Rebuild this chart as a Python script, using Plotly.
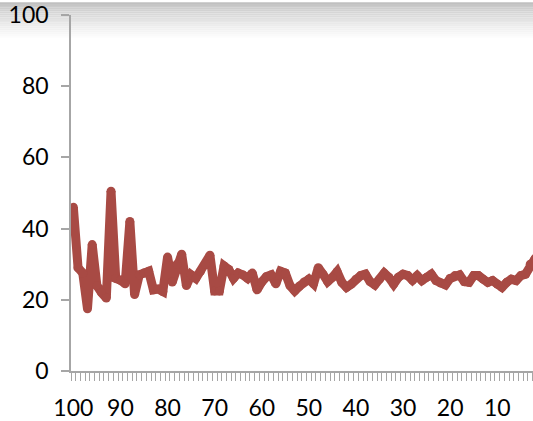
import plotly.graph_objects as go

# Category positions run from 100 down to 1 (reversed axis)
categories = list(range(100, 0, -1))

values = [
    46, 29, 27.5, 17.5, 35.5, 24, 22, 20.5, 50.5, 26,      # 100-91
    25.5, 24.5, 42, 21.5, 27, 27.5, 28, 22.8, 23, 22.3,    # 90-81
    32, 25, 30, 32.8, 24, 27, 26, 28, 30, 32.5,            # 80-71
    22.5, 22.5, 29.5, 28.5, 26, 27.5, 27, 26, 27.5, 22.8,  # 70-61
    25, 26.5, 27, 24.5, 28, 27.5, 24, 22.5, 23.8, 25,      # 60-51
    25.8, 24.5, 29, 27.2, 25.1, 26.3, 27.9, 24.9, 23.5, 24.4,  # 50-41
    25.8, 26.8, 27.2, 25.1, 24.2, 25.8, 27.5, 26.3, 24.4, 26.3,  # 40-31
    27.2, 26.8, 25.5, 26.8, 25.4, 26.3, 27.2, 25.4, 24.7, 24.2,  # 30-21
    26, 26.8, 27, 25.1, 24.9, 26.8, 26.8, 25.8, 24.9, 25.4,    # 20-11
    24.4, 23.5, 24.9, 25.8, 25.4, 26.8, 27.2, 30, 31.5, 33,    # 10-1
]

x_tick_vals = [100, 90, 80, 70, 60, 50, 40, 30, 20, 10]
x_tick_text = [str(v) for v in x_tick_vals]
y_tick_vals = [0, 20, 40, 60, 80, 100]

line_color = "#A84A44"
axis_color = "#A6A6A6"
font_family = "Lato, Open Sans, sans-serif"
line_w = 9

fig = go.Figure()
# Thick line with round dots at each vertex so the joins look rounded
fig.add_trace(go.Scatter(
    x=categories,
    y=values,
    mode="lines+markers",
    line=dict(color=line_color, width=line_w),
    marker=dict(color=line_color, size=line_w, line=dict(width=0)),
    hoverinfo="skip",
    showlegend=False,
))

# Soft grey shading along the top edge of the chart
W, H = 533, 421
left, right, top, bottom = 71, 0, 13, 48
plot_w = W - left - right
plot_h = H - top - bottom
n_strips = 20
band = 38.0
for i in range(n_strips):
    y_px0 = band * i / n_strips
    y_px1 = band * (i + 1) / n_strips
    t = i / (n_strips - 1)
    g = int(round(192 + (255 - 192) * t ** 0.8))
    fig.add_shape(
        type="rect",
        xref="paper", yref="paper",
        x0=-left / plot_w, x1=1 + right / plot_w,
        y0=1 + (top - y_px1) / plot_h, y1=1 + (top - y_px0) / plot_h,
        fillcolor=f"rgb({g},{g},{g})",
        line=dict(width=0),
        layer="below",
    )

fig.update_layout(
    width=W, height=H,
    margin=dict(l=left, r=right, t=top, b=bottom, pad=0),
    paper_bgcolor="white",
    plot_bgcolor="rgba(0,0,0,0)",
    font=dict(family=font_family, size=23, color="#000000"),
    xaxis=dict(
        range=[100.5, 2.41],
        tickmode="array",
        tickvals=x_tick_vals,
        ticktext=x_tick_text,
        ticks="",
        showgrid=False,
        zeroline=False,
        showline=True,
        linecolor=axis_color,
        linewidth=1.5,
        ticklabelstandoff=16,
        ticklabeloverflow="allow",
        minor=dict(
            tickmode="linear",
            tick0=0.5,
            dtick=1,
            ticks="outside",
            ticklen=8,
            tickwidth=1,
            tickcolor=axis_color,
            showgrid=False,
        ),
    ),
    yaxis=dict(
        range=[0, 100],
        tickmode="array",
        tickvals=y_tick_vals,
        ticks="outside",
        ticklen=8,
        tickwidth=1.5,
        tickcolor=axis_color,
        showgrid=False,
        zeroline=False,
        showline=True,
        linecolor=axis_color,
        linewidth=1.5,
        ticklabelstandoff=8,
        ticklabeloverflow="allow",
    ),
)

fig.write_html("out.html")
